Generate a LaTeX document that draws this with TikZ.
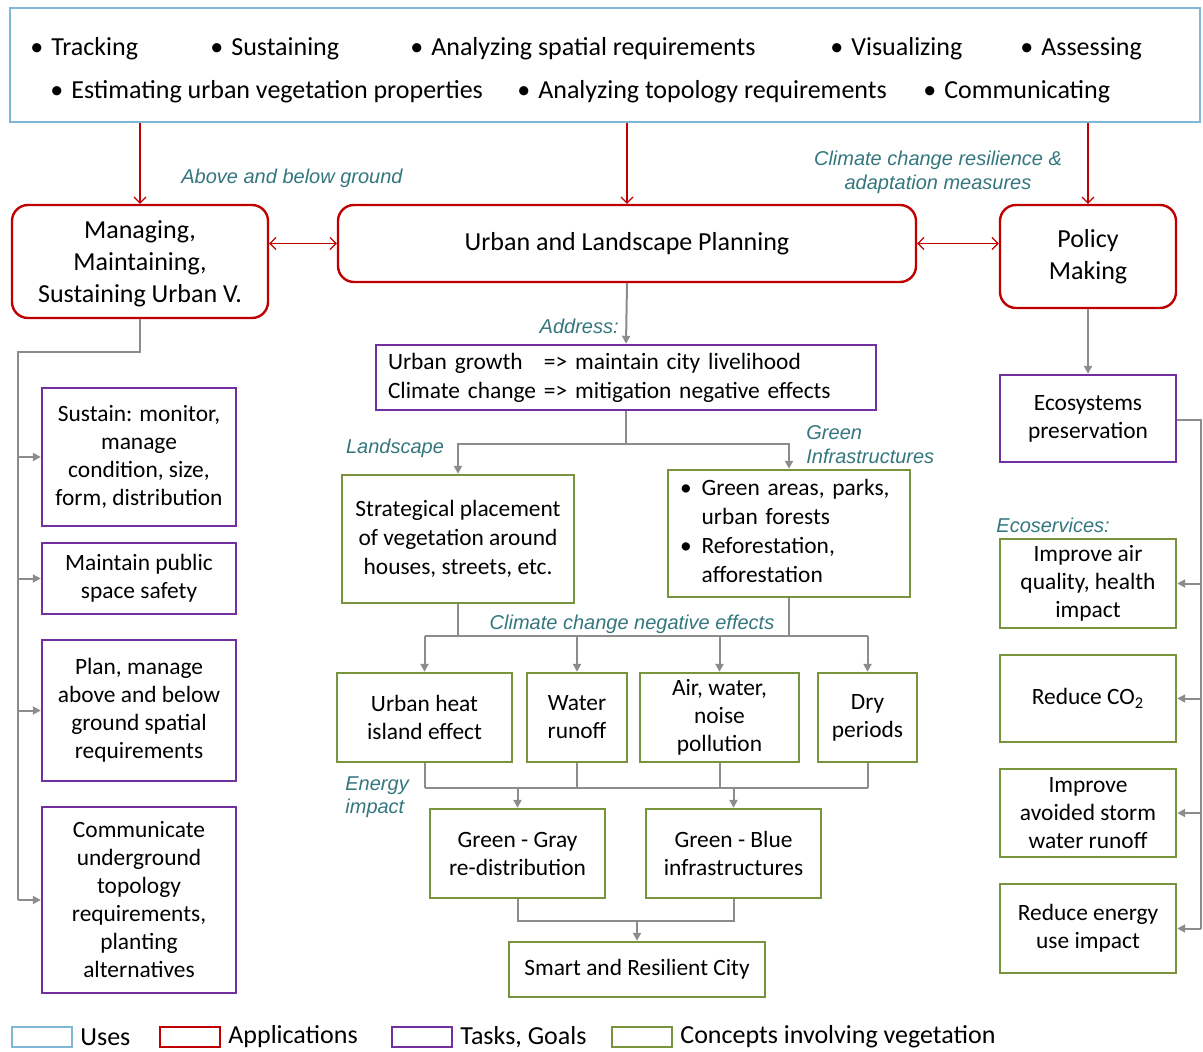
\documentclass[tikz,border=0pt]{standalone}
\usepackage{fontspec}
\setmainfont{Carlito}
\newfontfamily\lblfont{Liberation Sans}
\usetikzlibrary{arrows.meta,positioning,calc}
\definecolor{useblue}{RGB}{126,184,212}
\definecolor{applred}{RGB}{192,0,0}
\definecolor{taskpurple}{RGB}{112,48,160}
\definecolor{conceptgreen}{RGB}{119,147,60}
\definecolor{lblteal}{RGB}{52,118,126}
\definecolor{linegray}{RGB}{140,140,140}

\begin{document}
\begin{tikzpicture}[x=0.5pt,y=-0.5pt,
  box/.style={draw,line width=1.2pt,inner sep=0pt,align=center,font=\fontsize{11.7}{14}\selectfont},
  uses/.style={box,draw=useblue},
  appl/.style={box,draw=applred,rounded corners=8pt,font=\fontsize{13}{16}\selectfont},
  task/.style={box,draw=taskpurple},
  concept/.style={box,draw=conceptgreen},
  lbl/.style={inner sep=0pt,text=lblteal,font={\fontsize{10}{12}\lblfont\itshape}},
  conn/.style={draw=linegray,line width=1pt},
  grayarr/.style={conn,-{Triangle[length=4pt,width=4pt]}},
  redarr/.style={draw=applred,line width=0.6pt,>={Straight Barb[length=3pt,width=6pt]}},
  legtext/.style={anchor=west,inner sep=0pt,font=\fontsize{13}{15}\selectfont}]
\useasboundingbox (0,0) rectangle (1203,1052);

% uses
\node[uses,minimum width=595pt,minimum height=57pt] (uses) at (605,65) {};
\foreach \n/\x/\y/\t in {1/30/56/Tracking, 2/210/56/Sustaining,
    3/410/56/Analyzing spatial requirements, 4/830/56/Visualizing,
    5/1020/56/Assessing, 6/50/99/Estimating urban vegetation properties,
    7/517/99/Analyzing topology requirements, 8/923/99/Communicating}
  \node[anchor=base west,inner sep=0pt,font=\fontsize{13}{15}\selectfont] (use\n) at (\x,\y) {\textbullet\hspace{4pt}\t};

% applications
\node[appl,minimum width=128pt,minimum height=56.5pt,text depth=-3pt] (mng) at (140,261.5) {Managing,\\Maintaining,\\Sustaining Urban V.};
\node[appl,minimum width=289pt,minimum height=38.5pt] (plan) at (627,243.5) {Urban and Landscape Planning};
\node[appl,minimum width=88pt,minimum height=51.5pt] (pol) at (1088,256.5) {Policy\\Making};

\draw[redarr,->] (mng.north |- uses.south) -- (mng.north);
\draw[redarr,->] (plan.north |- uses.south) -- (plan.north);
\draw[redarr,->] (pol.north |- uses.south) -- (pol.north);
\draw[redarr,<->] (plan.west -| mng.east) -- (plan.west);
\draw[redarr,<->] (plan.east) -- (plan.east -| pol.west);

\node[lbl] (lag) at (292,178) {Above and below ground};
\node[lbl,align=center] (lcc) at (938,172) {Climate change resilience \&\\adaptation measures};

% left column
\node[task,minimum width=97pt,minimum height=69pt] (t1) at (139,457) {Sustain: monitor,\\manage\\condition, size,\\form, distribution};
\node[task,minimum width=97pt,minimum height=35.5pt] (t2) at (139,578.5) {Maintain public\\space safety};
\node[task,minimum width=97pt,minimum height=70.5pt] (t3) at (139,710.5) {Plan, manage\\above and below\\ground spatial\\requirements};
\node[task,minimum width=97pt,minimum height=93pt] (t4) at (139,900) {Communicate\\underground\\topology\\requirements,\\planting\\alternatives};

\coordinate (lt) at (18,352);
\draw[conn] (mng.south) |- (lt) -- (lt |- t4.west);
\foreach \b in {t1,t2,t3,t4}
  \draw[grayarr] (lt |- \b.west) -- (\b.west);

% middle column
\node[task,minimum width=250pt,minimum height=32.5pt,text width=238pt,align=left,font=\fontsize{11.7}{14.5}\selectfont] (addr) at (626,377.5)
  {\makebox[78pt][l]{Urban growth}=> maintain city livelihood\\\makebox[78pt][l]{Climate change}=> mitigation negative effects};
\draw[grayarr] (plan.south) -- (addr.north);
\node[lbl,anchor=east] (ladd) at (619,326) {Address:};

\node[concept,minimum width=116pt,minimum height=64pt,font=\fontsize{11.7}{14.5}\selectfont] (strat) at (458,539) {Strategical placement\\of vegetation around\\houses, streets, etc.};
\node[concept,minimum width=121pt,minimum height=63.5pt,text width=109pt,align=left,font=\fontsize{11.7}{14.5}\selectfont] (gi) at (789,533.5)
  {\begin{tabular}{@{}l@{\hspace{5pt}}l@{}}\textbullet & Green areas, parks,\\ & urban forests\\ \textbullet & Reforestation,\\ & afforestation\end{tabular}};
\draw[conn] (addr.south) -- ++(0,33) coordinate (ab);
\draw[grayarr] (ab) -| (strat.north);
\draw[grayarr] (ab) -| (gi.north);
\node[lbl] (lland) at (395,448) {Landscape};
\node[lbl,anchor=west,align=left] (lgi) at (806,445) {Green\\Infrastructures};

\node[concept,minimum width=87.5pt,minimum height=44.5pt] (uhi) at (424.5,717.5) {Urban heat\\island effect};
\node[concept,minimum width=50pt,minimum height=44.5pt] (wat) at (577,717.5) {Water\\runoff};
\node[concept,minimum width=79.5pt,minimum height=44.5pt] (air) at (719.5,717.5) {Air, water,\\noise\\pollution};
\node[concept,minimum width=49.5pt,minimum height=44.5pt] (dry) at (867.5,717.5) {Dry\\periods};

\coordinate (cl) at (424.5,636);
\draw[conn] (strat.south) -- (strat.south |- cl);
\draw[conn] (gi.south) -- (gi.south |- cl);
\draw[conn] (cl) -- (cl -| dry.north);
\foreach \b in {uhi,wat,air,dry}
  \draw[grayarr] (\b.north |- cl) -- (\b.north);
\node[lbl] (lcn) at (632,624) {Climate change negative effects};

\node[concept,minimum width=87.5pt,minimum height=44.5pt] (gg) at (517.5,853.5) {Green - Gray\\re-distribution};
\node[concept,minimum width=87.5pt,minimum height=44.5pt] (gb) at (733.5,853.5) {Green - Blue\\infrastructures};

\coordinate (el) at (424.5,788);
\foreach \b in {uhi,wat,air,dry}
  \draw[conn] (\b.south) -- (\b.south |- el);
\draw[conn] (el) -- (el -| dry.south);
\draw[grayarr] (el -| gg.north) -- (gg.north);
\draw[grayarr] (el -| gb.north) -- (gb.north);
\node[lbl,anchor=west,align=left,font={\fontsize{10}{11.5}\lblfont\itshape}] (len) at (345,797) {Energy\\impact};

\node[concept,minimum width=128pt,minimum height=27.5pt] (smart) at (637,969.5) {Smart and Resilient City};
\draw[conn] (gg.south) -- ++(0,22) coordinate (sl) -- (sl -| gb.south) -- (gb.south);
\draw[grayarr] (sl -| smart.north) -- (smart.north);

% right column
\node[task,minimum width=88pt,minimum height=43.5pt] (eco) at (1088,418.5) {Ecosystems\\preservation};
\draw[grayarr] (pol.south) -- (eco.north);

\node[concept,minimum width=88pt,minimum height=44.5pt] (s1) at (1088,583.5) {Improve air\\quality, health\\impact};
\node[concept,minimum width=88pt,minimum height=43.5pt] (s2) at (1088,698.5) {Reduce CO\textsubscript{2}};
\node[concept,minimum width=88pt,minimum height=44pt] (s3) at (1088,813) {Improve\\avoided storm\\water runoff};
\node[concept,minimum width=88pt,minimum height=44.5pt] (s4) at (1088,928.5) {Reduce energy\\use impact};
\node[lbl,anchor=west] (leco) at (996,525) {Ecoservices:};

\coordinate (er) at (1201,420);
\draw[conn] (eco.east |- er) -- (er) -- (er |- s4.east);
\foreach \b in {s1,s2,s3,s4}
  \draw[grayarr] (er |- \b.east) -- (\b.east);

% legend
\node[uses,minimum width=30pt,minimum height=10pt,line width=1pt] (kuse) at (42,1037) {};
\node[legtext] (kusel) at (80,1037) {Uses};
\node[box,draw=applred,minimum width=30pt,minimum height=10pt,line width=1pt] (kapp) at (190,1037) {};
\node[legtext] (kappl) at (228,1037) {Applications};
\node[task,minimum width=30pt,minimum height=10pt,line width=1pt] (ktask) at (422,1037) {};
\node[legtext] (ktaskl) at (460,1037) {Tasks, Goals};
\node[concept,minimum width=30pt,minimum height=10pt,line width=1pt] (kcon) at (642,1037) {};
\node[legtext] (kconl) at (680,1037) {Concepts involving vegetation};
\end{tikzpicture}
\end{document}
